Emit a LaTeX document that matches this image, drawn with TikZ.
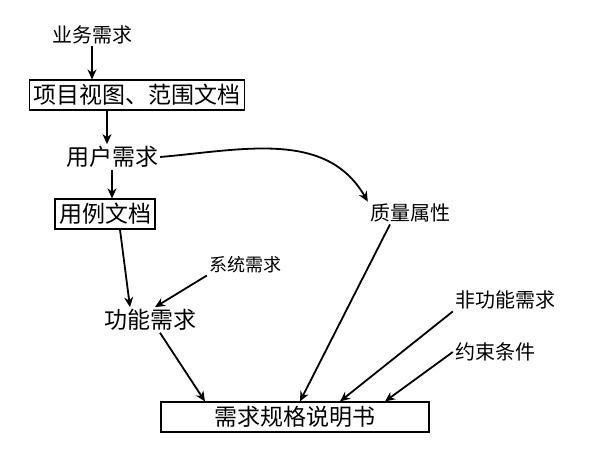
\documentclass[tikz,border=0pt]{standalone}
\usepackage{fontspec}
\newfontfamily\cjk{Noto Sans CJK SC}
\usetikzlibrary{arrows.meta}
\begin{document}
\begin{tikzpicture}[x=1pt,y=-1pt,
  lbl/.style={font=\cjk\fontsize{23}{26}\selectfont,inner sep=2pt},
  box/.style={lbl,draw,line width=1.8pt,inner sep=4pt},
  arr/.style={-{Stealth[length=10pt,width=9pt]},line width=1.8pt}]
\useasboundingbox (0,0) rectangle (600,462);
\node[lbl,font=\cjk\fontsize{20}{24}\selectfont] (a) at (92,35) {业务需求};
\node[box] (b) at (137,95) {项目视图、范围文档};
\node[lbl] (c) at (112,157) {用户需求};
\node[box] (d) at (105,214) {用例文档};
\node[lbl,font=\cjk\fontsize{20}{24}\selectfont] (e) at (410,213) {质量属性};
\node[lbl,font=\cjk\fontsize{18}{22}\selectfont] (f) at (245,265) {系统需求};
\node[lbl] (g) at (150,320) {功能需求};
\node[lbl,font=\cjk\fontsize{20}{24}\selectfont] (h) at (505,300) {非功能需求};
\node[lbl,font=\cjk\fontsize{20}{24}\selectfont] (i) at (495,352) {约束条件};
\node[box,minimum width=268pt] (j) at (295,417) {需求规格说明书};
\draw[arr] (a.south) -- (a.south |- b.north);
\draw[arr] ([xshift=-30pt]b.south) -- ([xshift=-30pt]b.south |- c.north);
\draw[arr] (c.south) -- (c.south |- d.north);
\draw[arr] (c.east) to[out=5,in=120] (e.north west);
\draw[arr] ([xshift=15pt]d.south) -- ([xshift=-20pt]g.north);
\draw[arr] (f.south west) -- ([xshift=5pt]g.north);
\draw[arr] ([xshift=10pt]g.south) -- ([xshift=-90pt]j.north);
\draw[arr] ([xshift=-20pt]e.south) -- ([xshift=5pt]j.north);
\draw[arr] (h.south west) -- ([xshift=45pt]j.north);
\draw[arr] (i.west) -- ([xshift=90pt]j.north);
\end{tikzpicture}
\end{document}
